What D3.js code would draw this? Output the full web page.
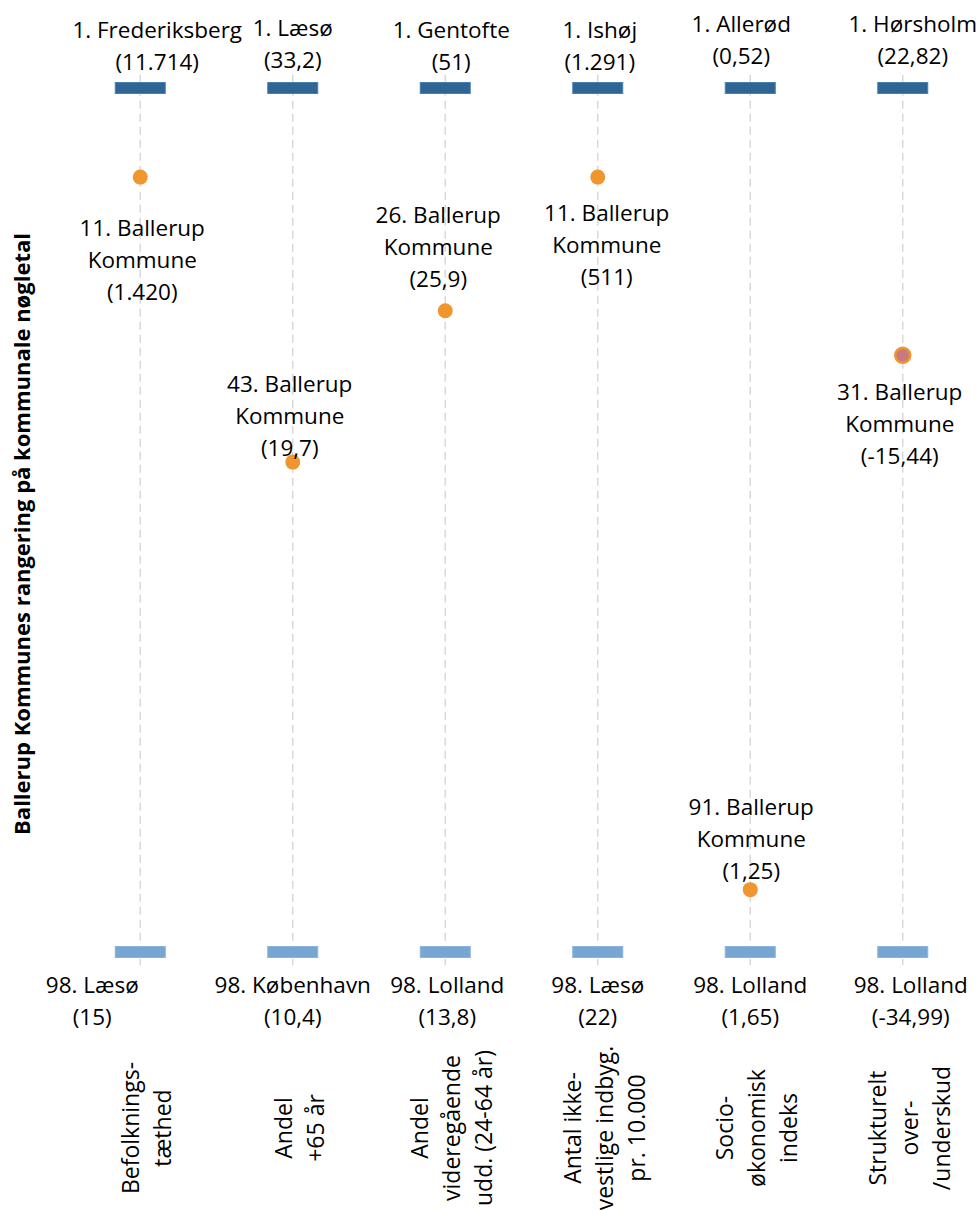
<!DOCTYPE html>
<html>
<head>
<meta charset="utf-8">
<script src="https://cdn.jsdelivr.net/npm/d3@7"></script>
<style>
  body { margin: 0; background: #fff; }
  text { font-family: "Open Sans", sans-serif; fill: #000; }
</style>
</head>
<body>
<div id="chart"></div>
<script>
// chart data
const categories = [
  ["Befolknings-", "tæthed"],
  ["Andel", "+65 år"],
  ["Andel", "videregående", "udd. (24-64 år)"],
  ["Antal ikke-", "vestlige indbyg.", "pr. 10.000"],
  ["Socio-", "økonomisk", "indeks"],
  ["Strukturelt", "over-", "/underskud"]
];
const topRank = 1;
const bottomRank = 98;
const topNames = ["Frederiksberg", "Læsø", "Gentofte", "Ishøj", "Allerød", "Hørsholm"];
const topValues = ["11.714", "33,2", "51", "1.291", "0,52", "22,82"];
const bottomNames = ["Læsø", "København", "Lolland", "Læsø", "Lolland", "Lolland"];
const bottomValues = ["15", "10,4", "13,8", "22", "1,65", "-34,99"];
const ballerupRanks = [11, 43, 26, 11, 91, 31];
const ballerupValues = ["1.420", "19,7", "25,9", "511", "1,25", "-15,44"];

const width = 977;
const height = 1210;
const lineH = 32;
const fontSize = "22.5px";

// label nudges (dx, dy of first baseline relative to the mark)
const topNudge = [[17, -50], [0, -52], [6, -50], [2, -50], [-9, -56], [10, -56]];
const bottomNudge = [[-48, 41], [0, 41], [2, 41], [0, 41], [0, 41], [8, 41]];
const ballerupNudge = [[2, 59], [-3, -70], [-7, -88], [9, 44], [1, -75], [-3, 45]];

const svg = d3.select("#chart")
  .append("svg")
  .attr("width", width)
  .attr("height", height);

const x = d3.scaleBand()
  .domain(d3.range(categories.length))
  .range([64, 979]);

const y = d3.scaleLinear()
  .domain([topRank, bottomRank])
  .range([88, 952]);

const cx = i => x(i) + x.bandwidth() / 2;

// dashed guide lines
svg.selectAll(".guide")
  .data(categories)
  .enter().append("line")
  .attr("x1", (d, i) => cx(i))
  .attr("x2", (d, i) => cx(i))
  .attr("y1", y(-0.5))
  .attr("y2", y(99.5))
  .attr("stroke", "#d9d9d9")
  .attr("stroke-width", 1.5)
  .attr("stroke-dasharray", "8,5");

// top (rank 1) bars
svg.selectAll(".topbar")
  .data(topNames)
  .enter().append("rect")
  .attr("x", (d, i) => cx(i) - 25)
  .attr("y", y(topRank) - 5.5)
  .attr("width", 50)
  .attr("height", 11)
  .attr("fill", "#2e6595")
  .attr("stroke", "#4a7fb0")
  .attr("stroke-width", 1);

// bottom (rank 98) bars
svg.selectAll(".botbar")
  .data(bottomNames)
  .enter().append("rect")
  .attr("x", (d, i) => cx(i) - 25)
  .attr("y", y(bottomRank) - 5.5)
  .attr("width", 50)
  .attr("height", 11)
  .attr("fill", "#78a6d3")
  .attr("stroke", "#8db3da")
  .attr("stroke-width", 1);

// Ballerup dots
svg.selectAll(".dot")
  .data(ballerupRanks)
  .enter().append("circle")
  .attr("cx", (d, i) => cx(i))
  .attr("cy", d => y(d))
  .attr("r", 7.5)
  .attr("fill", (d, i) => i === 5 ? "#c97a7c" : "#f0962f")
  .attr("stroke", "#f0962f")
  .attr("stroke-width", (d, i) => i === 5 ? 2.5 : 0);

function multiLabel(lines, px, py) {
  const t = svg.append("text")
    .attr("text-anchor", "middle")
    .style("font-size", fontSize);
  lines.forEach((l, k) => {
    t.append("tspan")
      .attr("x", px)
      .attr("y", py + k * lineH)
      .text(l);
  });
}

topNames.forEach((n, i) => {
  multiLabel([`${topRank}. ${n}`, `(${topValues[i]})`],
    cx(i) + topNudge[i][0], y(topRank) + topNudge[i][1]);
});

bottomNames.forEach((n, i) => {
  multiLabel([`${bottomRank}. ${n}`, `(${bottomValues[i]})`],
    cx(i) + bottomNudge[i][0], y(bottomRank) + bottomNudge[i][1]);
});

ballerupRanks.forEach((r, i) => {
  multiLabel([`${r}. Ballerup`, "Kommune", `(${ballerupValues[i]})`],
    cx(i) + ballerupNudge[i][0], y(r) + ballerupNudge[i][1]);
});

// rotated category labels
categories.forEach((lines, i) => {
  const g = svg.append("g")
    .attr("transform", `translate(${cx(i) + 7},1128) rotate(-90)`);
  const n = lines.length;
  lines.forEach((l, k) => {
    g.append("text")
      .attr("text-anchor", "middle")
      .attr("x", 0)
      .attr("y", (k - (n - 1) / 2) * lineH + 8)
      .style("font-size", "23px")
      .text(l);
  });
});

// y axis title
svg.append("text")
  .attr("transform", "translate(30,534) rotate(-90)")
  .attr("text-anchor", "middle")
  .style("font-size", "22px")
  .style("font-weight", "bold")
  .text("Ballerup Kommunes rangering på kommunale nøgletal");
</script>
</body>
</html>
